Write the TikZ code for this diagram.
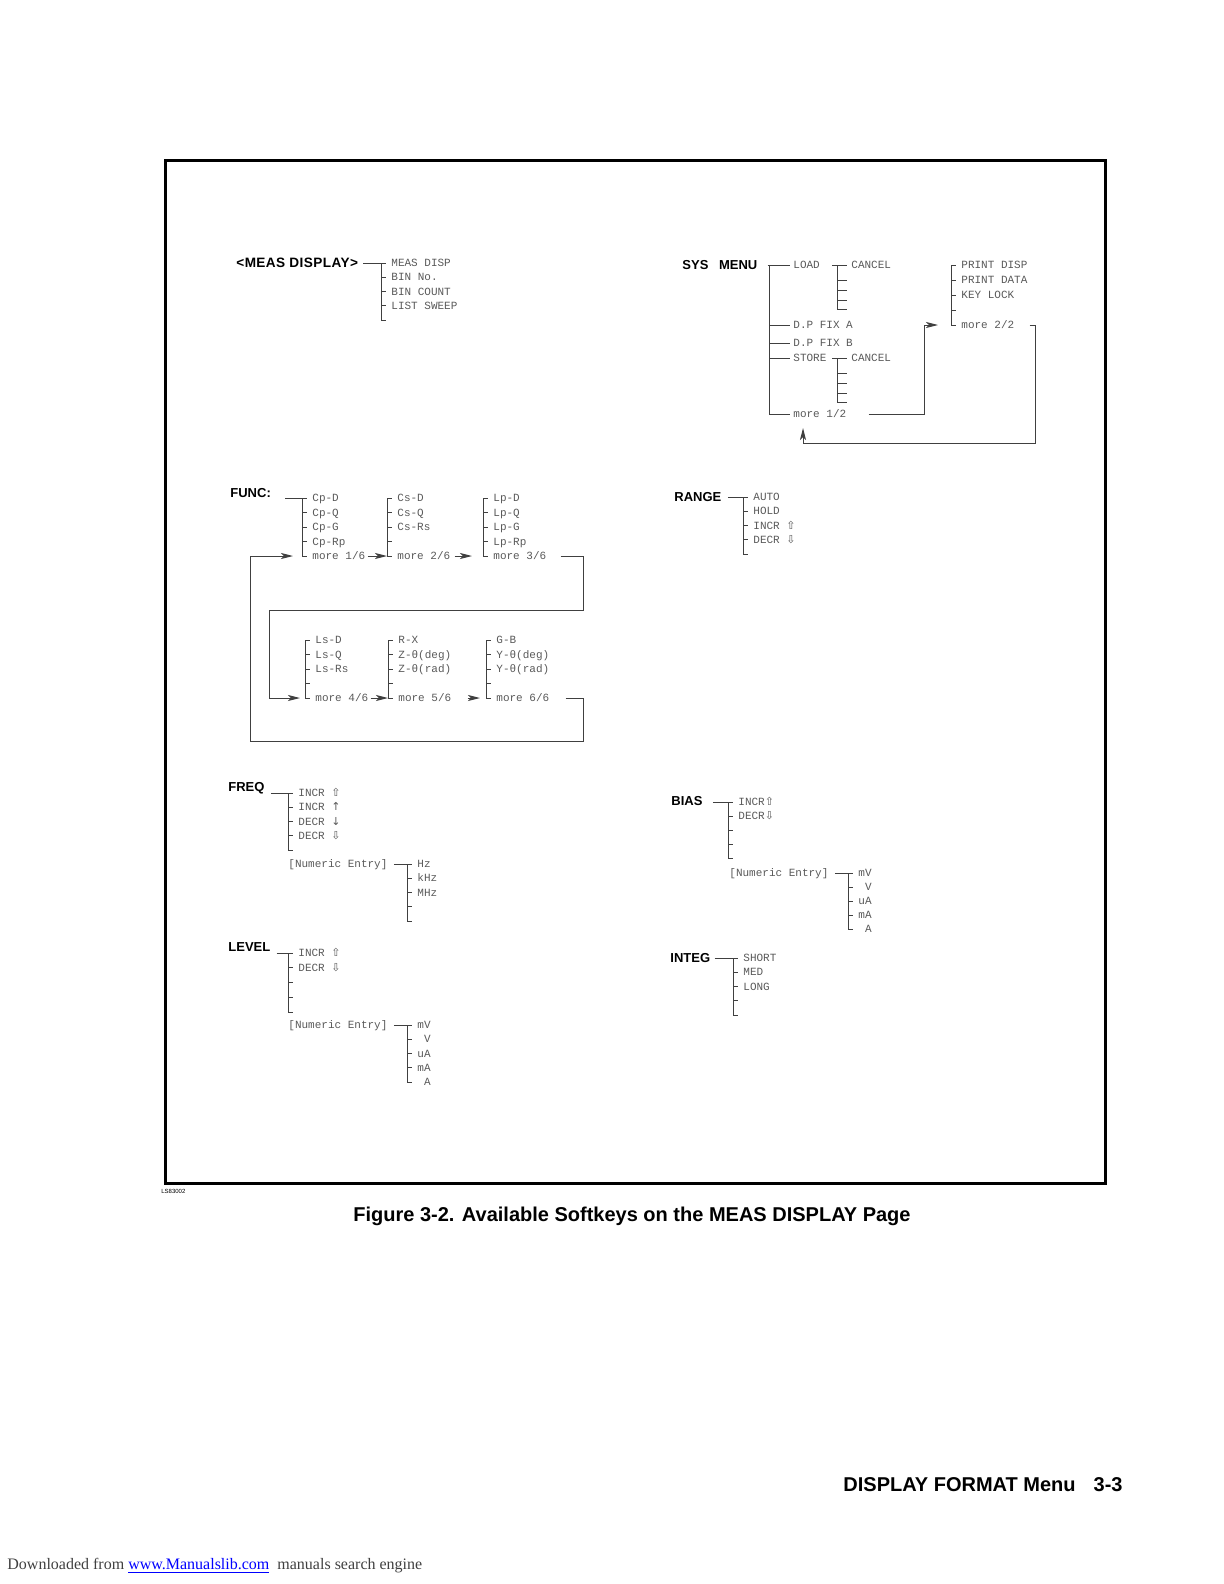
\documentclass[tikz,border=0pt]{standalone}
\usepackage{fontspec}
\setmainfont{Liberation Serif}
\setsansfont{Liberation Sans}
\newfontfamily\keyfont{Liberation Mono}
\newfontfamily\symfont{DejaVu Sans}
\usetikzlibrary{arrows.meta}

\newcommand{\kup}{{\symfont ⇧}}
\newcommand{\kdn}{{\symfont ⇩}}
\newcommand{\kupa}{{\symfont ↑}}
\newcommand{\kdna}{{\symfont ↓}}

\tikzset{
  tree/.style={draw=black!75, line width=0.5pt},
  link/.style={tree, -{Stealth[length=6pt,width=3pt,inset=1.5pt]}},
  key/.style={font=\keyfont\fontsize{5.5}{6}\selectfont, text=black!65,
    inner sep=0pt, text height=3.6pt, text depth=0pt, anchor=west},
  menu/.style={font=\sffamily\bfseries\fontsize{6.5}{7}\selectfont,
    inner sep=0pt, text height=4.7pt, text depth=0pt, anchor=west},
}

% softkey column: name, bar x, top y, step, keys
\newcommand{\keycol}[5]{%
  \draw[tree] (#2,#3) -- (#2,#3+4*#4);
  \foreach \kname [count=\kn from 0] in {#5} {
    \coordinate (#1-b\kn) at (#2,#3+\kn*#4);
    \draw[tree] (#1-b\kn) -- ++(5,0);
    \node[key] (#1-\kn) at ([xshift=5pt]#1-b\kn) {\kname};
  }
}
% unit column, keys set flush right
\newcommand{\unitcol}[5]{%
  \draw[tree] (#2,#3) -- (#2,#3+4*#4);
  \foreach \kname [count=\kn from 0] in {#5} {
    \coordinate (#1-b\kn) at (#2,#3+\kn*#4);
    \draw[tree] (#1-b\kn) -- ++(5,0);
    \node[key,anchor=east] (#1-\kn) at ([xshift=12pt]#1-b\kn) {\kname};
  }
}

\begin{document}
\begin{tikzpicture}[x=0.5pt,y=-0.5pt]
\useasboundingbox (0,0) rectangle (1224,1584);
\draw[line width=1.5pt] (165,160) rectangle (1105,1183);

% MEAS DISPLAY
\node[menu,font=\sffamily\bfseries\fontsize{6.8}{7}\selectfont\addfontfeature{LetterSpace=3}] (meas) at (236,263) {<MEAS DISPLAY>};
\keycol{md}{381}{263}{14.25}{MEAS DISP,BIN No.,BIN COUNT,LIST SWEEP,}
\draw[tree] ([xshift=2.5pt]meas.east) -- (md-b0);

% SYS MENU
\node[menu] (sys) at (682,265) {SYS\hspace{3.5pt} MENU};
\node[key] (load) at (793,265) {LOAD};
\node[key] (fixa) at (793,325) {D.P FIX A};
\node[key] (fixb) at (793,343) {D.P FIX B};
\node[key] (store) at (793,358) {STORE};
\node[key] (more12) at (793,414) {more 1/2};
\coordinate (sysbar) at (769,265);
\draw[tree] ([xshift=5pt]sys.east) -- (sysbar);
\draw[tree] (sysbar) -- (sysbar |- more12);
\foreach \n in {load,fixa,fixb,store,more12}
  \draw[tree] (sysbar |- \n) -- ([xshift=-1.5pt]\n.west);
\node[key] (cancel1) at (851,265) {CANCEL};
\node[key] (cancel2) at (851,358) {CANCEL};
\coordinate (cbar1) at (837,265);
\coordinate (cbar2) at (837,358);
\draw[tree] ([xshift=-2.5pt]cbar1) -- ([xshift=-2pt]cancel1.west);
\draw[tree] ([xshift=-2.5pt]cbar2) -- ([xshift=-2pt]cancel2.west);
\draw[tree] (cbar1) -- ++(0,44);
\draw[tree] (cbar2) -- ++(0,44);
\foreach \y in {15,25,35,44} {
  \draw[tree] ([yshift=-\y*0.5pt]cbar1) -- ++(10,0);
  \draw[tree] ([yshift=-\y*0.5pt]cbar2) -- ++(10,0);
}
\keycol{sp}{951}{265}{15}{PRINT DISP,PRINT DATA,KEY LOCK,,more 2/2}
\draw[link] ([xshift=11pt]more12.east) -| (924,325) -- ([xshift=-6.5pt]sp-b4);
\draw[link] ([xshift=7.5pt]sp-4.east) -| (1035,443) -| (803,428);

% FUNC
\node[menu] (func) at (230,493) {FUNC:};
\keycol{fa}{302}{498}{14.5}{Cp-D,Cp-Q,Cp-G,Cp-Rp,more 1/6}
\keycol{fb}{387}{498}{14.5}{Cs-D,Cs-Q,Cs-Rs,,more 2/6}
\keycol{fc}{483}{498}{14.5}{Lp-D,Lp-Q,Lp-G,Lp-Rp,more 3/6}
\keycol{fd}{305}{640}{14.5}{Ls-D,Ls-Q,Ls-Rs,,more 4/6}
\keycol{fe}{388}{640}{14.5}{R-X,Z-θ(deg),Z-θ(rad),,more 5/6}
\keycol{ff}{486}{640}{14.5}{G-B,Y-θ(deg),Y-θ(rad),,more 6/6}
\draw[tree] (func.east |- fa-b0) ++(14,0) -- (fa-b0);
\draw[link] ([xshift=1pt]fa-4.east) -- (fb-b4);
\draw[link] ([xshift=2pt]fb-4.east) -- ([xshift=-5.5pt]fc-b4);
\draw[link] ([xshift=7pt]fc-4.east) -| (583,610) -| (269,698) -- ([xshift=-2.5pt]fd-b4);
\draw[link] ([xshift=1pt]fd-4.east) -- (fe-b4);
\draw[link] ([xshift=8pt]fe-4.east) -- ([xshift=-3pt]ff-b4);
\draw[link] ([xshift=8pt]ff-4.east) -| (583,741) -| (250,556) -- ([xshift=-4.5pt]fa-b4);

% RANGE
\node[menu] (range) at (674,497) {RANGE};
\keycol{rg}{743}{497}{14.25}{AUTO,HOLD,INCR \kup,DECR \kdn,}
\draw[tree] (range.east |- rg-b0) ++(6,0) -- (rg-b0);

% FREQ
\node[menu] (freq) at (228,787) {FREQ};
\keycol{fq}{288}{793}{14.25}{INCR \kup,INCR \kupa,DECR \kdna,DECR \kdn,}
\draw[tree] (freq.east |- fq-b0) ++(6,0) -- (fq-b0);
\node[key] (fqnum) at (288,864) {[Numeric Entry]};
\keycol{fqu}{407}{864}{14.25}{Hz,kHz,MHz,,}
\draw[tree] ([xshift=3pt]fqnum.east) -- (fqu-b0);

% LEVEL
\node[menu] (level) at (228,947) {LEVEL};
\keycol{lv}{288}{953}{14.75}{INCR \kup,DECR \kdn,,,}
\draw[tree] (level.east |- lv-b0) ++(6,0) -- (lv-b0);
\node[key] (lvnum) at (288,1025) {[Numeric Entry]};
\unitcol{lvu}{407}{1025}{14.25}{mV,V,uA,mA,A}
\draw[tree] ([xshift=3pt]lvnum.east) -- (lvu-b0);

% BIAS
\node[menu] (bias) at (671,801) {BIAS};
\keycol{bs}{728}{802}{14}{INCR\kup,DECR\kdn,,,}
\draw[tree] (bias.east |- bs-b0) ++(10,0) -- (bs-b0);
\node[key] (bsnum) at (729,873) {[Numeric Entry]};
\unitcol{bsu}{848}{873}{14}{mV,V,uA,mA,A}
\draw[tree] ([xshift=3pt]bsnum.east) -- (bsu-b0);

% INTEG
\node[menu] (integ) at (670,958) {INTEG};
\keycol{ig}{733}{958}{14.25}{SHORT,MED,LONG,,}
\draw[tree] (integ.east |- ig-b0) ++(4,0) -- (ig-b0);

% page text
\node[font=\sffamily\fontsize{3}{3}\selectfont, inner sep=0pt, anchor=west] (code) at (161,1191) {LS83002};
\node[font=\sffamily\bfseries\fontsize{10}{12}\selectfont, inner sep=0pt] (caption) at (632,1216)
  {Figure 3-2. Available Softkeys on the MEAS DISPLAY Page};
\node[font=\sffamily\bfseries\fontsize{10}{12}\selectfont, inner sep=0pt, anchor=west] (footer) at (843,1485) {DISPLAY FORMAT Menu};
\node[font=\sffamily\bfseries\fontsize{10}{12}\selectfont, inner sep=0pt, anchor=east] (pageno) at (1123,1485) {3-3};
\node[font=\fontsize{8}{10}\selectfont, text=black!75, inner sep=0pt, anchor=west] (dl) at (7,1566)
  {Downloaded from \textcolor{blue}{\underline{www.Manualslib.com}}\ \ manuals search engine};
\end{tikzpicture}
\end{document}
